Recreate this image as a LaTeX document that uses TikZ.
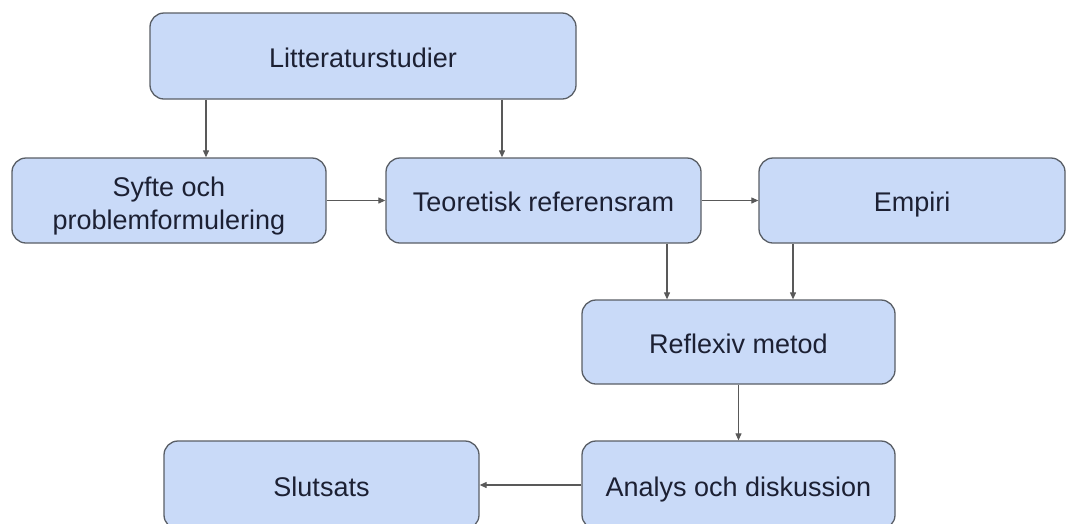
\documentclass[tikz,border=0pt]{standalone}
\usepackage{fontspec}
\setmainfont{Liberation Sans}
\usetikzlibrary{arrows.meta}
\definecolor{boxfill}{HTML}{C9DAF8}
\definecolor{boxline}{HTML}{595E66}
\definecolor{arrowc}{HTML}{595959}
\definecolor{txt}{HTML}{1C2033}
\tikzset{
  box/.style={draw=boxline, line width=1.3pt, fill=boxfill, rounded corners=14pt,
    text=txt, font=\fontsize{27}{33}\selectfont, align=center, inner sep=0pt},
  one/.style={text height=24pt, text depth=2pt},
  conn/.style={draw=arrowc, line width=1.1pt, -{Triangle[length=7pt,width=6pt]}}
}
\begin{document}
\begin{tikzpicture}[x=1pt,y=-1pt]
\useasboundingbox (0,0) rectangle (1066,523);
\clip (0,0) rectangle (1066,523);
\node[box, one, minimum width=426pt, minimum height=86pt] (lit) at (363,56) {Litteraturstudier};
\node[box, minimum width=314pt, minimum height=85pt] (syf) at (169,200.5) {\rule{0pt}{30pt}Syfte och\\problemformulering};
\node[box, one, minimum width=315pt, minimum height=85pt] (teo) at (543.5,200.5) {Teoretisk referensram};
\node[box, one, minimum width=306pt, minimum height=85pt] (emp) at (912,200.5) {Empiri};
\node[box, one, minimum width=313pt, minimum height=84pt] (ref) at (738.5,342) {Reflexiv metod};
\node[box, one, minimum width=313pt, minimum height=88pt] (ana) at (738.5,485) {Analys och diskussion};
\node[box, one, minimum width=315pt, minimum height=88pt] (slu) at (321.5,485) {Slutsats};
\draw[conn] (lit.south -| 206,0) -- (syf.north -| 206,0);
\draw[conn] (lit.south -| 502,0) -- (teo.north -| 502,0);
\draw[conn] (syf.east) -- (teo.west);
\draw[conn] (teo.east) -- (emp.west);
\draw[conn] (teo.south -| 667,0) -- (ref.north -| 667,0);
\draw[conn] (emp.south -| 793,0) -- (ref.north -| 793,0);
\draw[conn] (ref.south) -- (ana.north);
\draw[conn] (ana.west) -- (slu.east);
\end{tikzpicture}
\end{document}
